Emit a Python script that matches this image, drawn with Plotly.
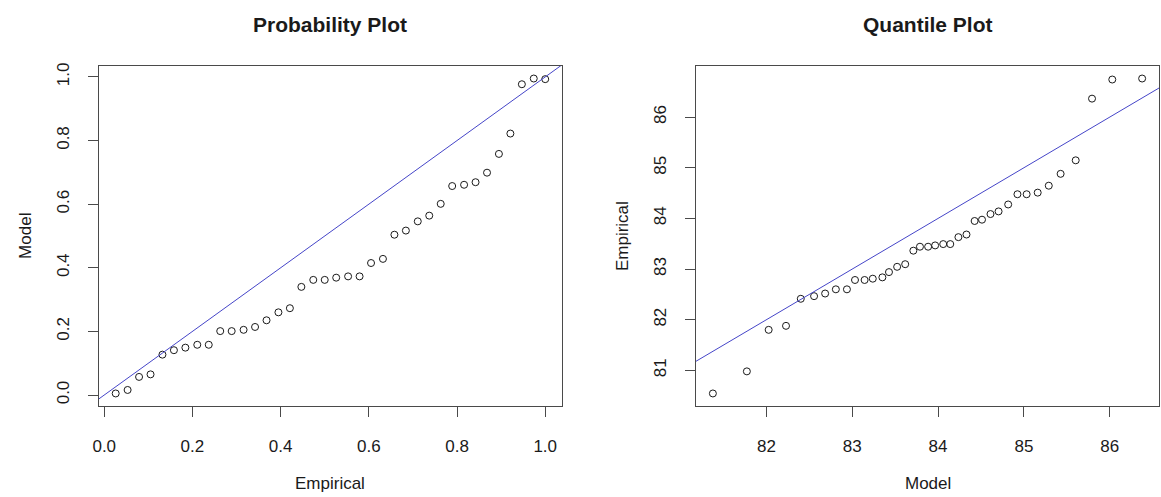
import plotly.graph_objects as go

# ---- data ----
prob_empirical = [0.026, 0.053, 0.079, 0.105, 0.132, 0.158, 0.184, 0.211, 0.237, 0.263,
                  0.289, 0.316, 0.342, 0.368, 0.395, 0.421, 0.447, 0.474, 0.500, 0.526,
                  0.553, 0.579, 0.605, 0.632, 0.658, 0.684, 0.711, 0.737, 0.763, 0.789,
                  0.816, 0.842, 0.868, 0.895, 0.921, 0.947, 0.974, 1.000]
prob_model = [0.005, 0.016, 0.057, 0.065, 0.127, 0.141, 0.149, 0.158, 0.158, 0.201,
              0.201, 0.205, 0.214, 0.235, 0.260, 0.273, 0.340, 0.362, 0.362, 0.369,
              0.373, 0.373, 0.415, 0.428, 0.504, 0.517, 0.546, 0.564, 0.601, 0.657,
              0.661, 0.669, 0.699, 0.758, 0.822, 0.977, 0.995, 0.993]

quant_model = [81.376, 81.772, 82.026, 82.228, 82.400, 82.555, 82.684, 82.809, 82.938, 83.032,
               83.144, 83.239, 83.351, 83.428, 83.523, 83.617, 83.712, 83.789, 83.884, 83.966,
               84.060, 84.142, 84.237, 84.331, 84.426, 84.512, 84.611, 84.705, 84.817, 84.925,
               85.032, 85.161, 85.290, 85.428, 85.604, 85.794, 86.030, 86.378]
quant_empirical = [80.544, 80.980, 81.800, 81.879, 82.413, 82.465, 82.517, 82.600, 82.600, 82.784,
                   82.784, 82.810, 82.836, 82.940, 83.044, 83.096, 83.363, 83.441, 83.441, 83.467,
                   83.493, 83.493, 83.630, 83.682, 83.949, 83.975, 84.086, 84.138, 84.275, 84.477,
                   84.477, 84.509, 84.646, 84.880, 85.147, 86.365, 86.742, 86.762]

prob_ticks = [0.0, 0.2, 0.4, 0.6, 0.8, 1.0]
quant_xticks = [82, 83, 84, 85, 86]
quant_yticks = [81, 82, 83, 84, 85, 86]

titles = ["Probability Plot", "Quantile Plot"]
xlabels = ["Empirical", "Model"]
ylabels = ["Model", "Empirical"]


def r_range(v):
    lo, hi = min(v), max(v)
    pad = 0.04 * (hi - lo)
    return [lo - pad, hi + pad]


W, H = 1161, 497
FONT = "Liberation Sans, Arial, sans-serif"
TXT = "#1a1a1a"
LINE = "#4a4a4a"

fig = go.Figure()

# point traces
fig.add_trace(go.Scatter(x=prob_empirical, y=prob_model, mode="markers",
                         marker=dict(symbol="circle-open", size=7, color=TXT, line=dict(width=1)),
                         xaxis="x", yaxis="y", showlegend=False))
fig.add_trace(go.Scatter(x=quant_model, y=quant_empirical, mode="markers",
                         marker=dict(symbol="circle-open", size=7, color=TXT, line=dict(width=1)),
                         xaxis="x2", yaxis="y2", showlegend=False))

# identity reference lines
xr1, yr1 = r_range(prob_empirical), r_range(prob_model)
xr2, yr2 = r_range(quant_model), r_range(quant_empirical)
l1 = [min(xr1[0], yr1[0]), max(xr1[1], yr1[1])]
l2 = [min(xr2[0], yr2[0]), max(xr2[1], yr2[1])]
fig.add_trace(go.Scatter(x=l1, y=l1, mode="lines", line=dict(color="#4545c8", width=1),
                         xaxis="x", yaxis="y", showlegend=False))
fig.add_trace(go.Scatter(x=l2, y=l2, mode="lines", line=dict(color="#4545c8", width=1),
                         xaxis="x2", yaxis="y2", showlegend=False))

ydom = [(H - 405.5) / H, (H - 63.3) / H]
dom1 = [93 / W, 559.3 / W]
dom2 = [693.3 / W, 1159.3 / W]

axis_common = dict(showline=True, mirror=True, linecolor=LINE, linewidth=1,
                   ticks="outside", ticklen=10, tickcolor=LINE, tickwidth=1,
                   showgrid=False, zeroline=False,
                   tickfont=dict(family=FONT, size=17, color=TXT))

fig.update_layout(
    width=W, height=H,
    margin=dict(l=0, r=0, t=0, b=0),
    paper_bgcolor="white", plot_bgcolor="white",
    xaxis=dict(domain=dom1, anchor="y", range=xr1, tickvals=prob_ticks, tickformat=".1f",
               ticklabelstandoff=15, **axis_common),
    yaxis=dict(domain=ydom, anchor="x", range=yr1, tickvals=prob_ticks, tickformat=".1f",
               tickangle=-90, ticklabelstandoff=12, **axis_common),
    xaxis2=dict(domain=dom2, anchor="y2", range=xr2, tickvals=quant_xticks,
                ticklabelstandoff=15, **axis_common),
    yaxis2=dict(domain=ydom, anchor="x2", range=yr2, tickvals=quant_yticks,
                tickangle=-90, ticklabelstandoff=12, **axis_common),
)

ann = []
for i, (dom, xa) in enumerate([(dom1, "x"), (dom2, "x2")]):
    cx = (dom[0] + dom[1]) / 2
    ann.append(dict(text=f"<b>{titles[i]}</b>", x=cx, y=(H - 22) / H, xref="paper", yref="paper",
                    showarrow=False, xanchor="center", yanchor="middle",
                    font=dict(family=FONT, size=21, color=TXT)))
    ann.append(dict(text=xlabels[i], x=cx, y=(H - 483) / H, xref="paper", yref="paper",
                    showarrow=False, xanchor="center", yanchor="middle",
                    font=dict(family=FONT, size=17, color=TXT)))
    ann.append(dict(text=ylabels[i], x=(dom[0] * W - 73) / W, y=(ydom[0] + ydom[1]) / 2,
                    xref="paper", yref="paper", textangle=-90,
                    showarrow=False, xanchor="center", yanchor="middle",
                    font=dict(family=FONT, size=17, color=TXT)))
fig.update_layout(annotations=ann)

fig.write_html("out.html")
